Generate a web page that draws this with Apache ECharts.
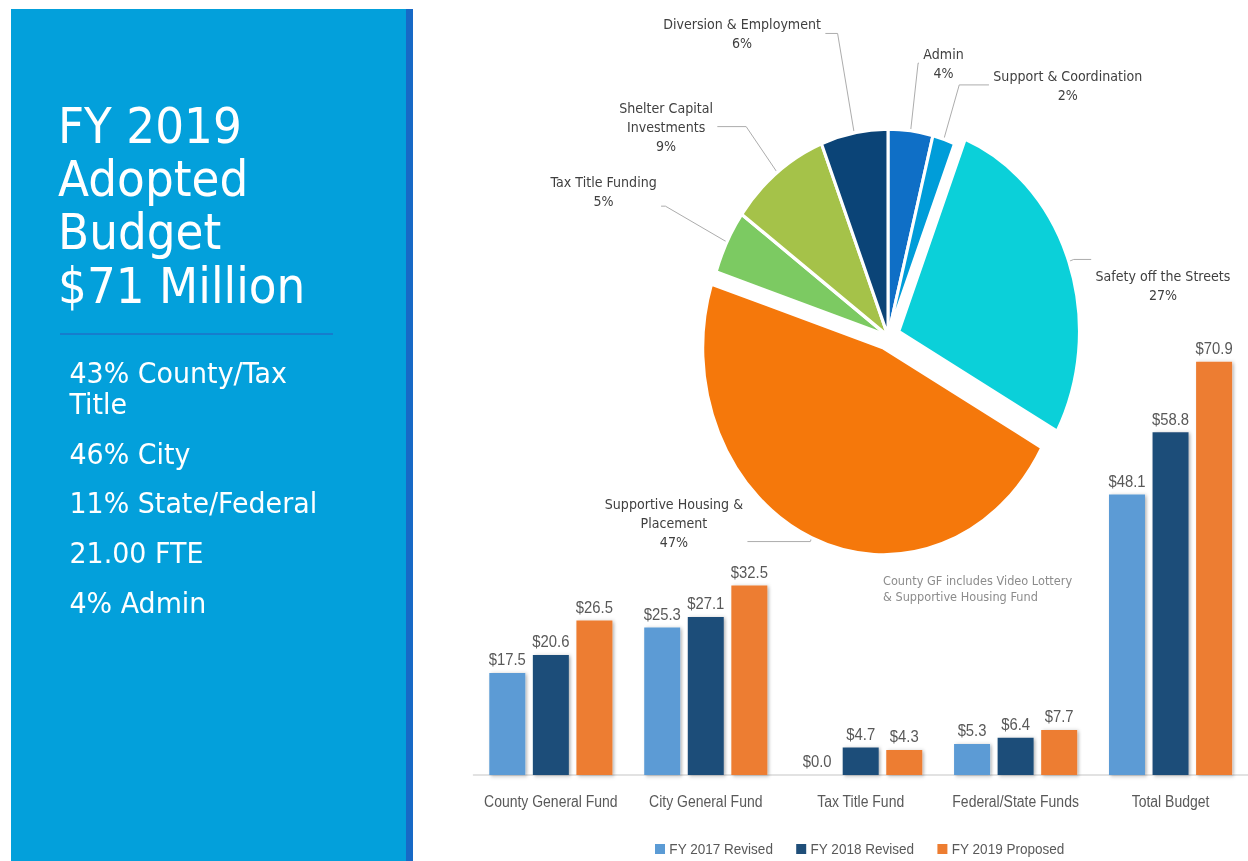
<!DOCTYPE html>
<html>
<head>
<meta charset="utf-8">
<script src="https://cdn.jsdelivr.net/npm/echarts@6/dist/echarts.min.js"></script>
<style>
  html, body { margin: 0; padding: 0; background: #fff; }
  #wrap { position: absolute; left: 0; top: 0; width: 1248px; height: 861px; overflow: hidden; background: #fff; }
  #chart { position: absolute; left: 0; top: 0; width: 1429px; height: 861px; transform-origin: 0 0; }
</style>
</head>
<body>
<div id="wrap"><div id="chart"></div></div>
<script>
// ---------- data ----------
const titleLines = ['FY 2019', 'Adopted', 'Budget', '$71 Million'];
const factLines = ['43% County/Tax', 'Title', '46% City', '11% State/Federal', '21.00 FTE', '4% Admin'];
const noteLines = ['County GF includes Video Lottery', '& Supportive Housing Fund'];

const pieNames = ['Admin', 'Support & Coordination', 'Safety off the Streets',
  'Supportive Housing &\nPlacement', 'Tax Title Funding', 'Shelter Capital\nInvestments',
  'Diversion & Employment'];
const pieValues = [4, 2, 27, 47, 5, 9, 6];
const pieColors = ['#0F6FC6', '#009DD9', '#0BD0D9', '#F5780B', '#7CCA62', '#A5C249', '#0B4477'];
const pieExploded = [false, false, true, true, false, false, false];

const barCategories = ['County General Fund', 'City General Fund', 'Tax Title Fund', 'Federal/State Funds', 'Total Budget'];
const seriesNames = ['FY 2017 Revised', 'FY 2018 Revised', 'FY 2019 Proposed'];
const fy2017 = [17.5, 25.3, 0.0, 5.3, 48.1];
const fy2018 = [20.6, 27.1, 4.7, 6.4, 58.8];
const fy2019 = [26.5, 32.5, 4.3, 7.7, 70.9];
const barColors = ['#5B9BD5', '#1F4E79', '#ED7D31'];

// ---------- layout helpers (page is horizontally compressed like the original slide) ----------
const VW = 1429, VH = 861;
const SX = 1248 / VW;
document.getElementById('chart').style.transform = 'scaleX(' + SX + ')';
const vx = x => x / SX;

// per-slice label line settings (length, length2, padding)
const labelLineCfg = [
  { length: 68, length2: 1, padding: 0 },
  { length: 57, length2: 34, padding: 0 },
  { length: 6, length2: 20, padding: [52, 0, 0, 0] },
  { length: 4, length2: 72, padding: [0, 0, 37, 0] },
  { length: 79, length2: 5, padding: [0, 0, 29, 0] },
  { length: 58, length2: 33, padding: 0 },
  { length: 101, length2: 14, padding: 0 }
];

const pieData = pieNames.map((n, i) => ({
  name: n,
  value: pieValues[i],
  selected: pieExploded[i],
  itemStyle: { color: pieColors[i] },
  label: { padding: labelLineCfg[i].padding },
  labelLine: { length: labelLineCfg[i].length, length2: labelLineCfg[i].length2 }
}));

const graphics = [];
graphics.push({ type: 'rect', shape: { x: vx(11), y: 9, width: vx(406) - vx(11), height: 852 }, style: { fill: '#03A0DB' }, silent: true });
graphics.push({ type: 'rect', shape: { x: vx(406), y: 9, width: vx(7), height: 852 }, style: { fill: '#1769C6' }, silent: true });
graphics.push({ type: 'line', shape: { x1: vx(60), y1: 334, x2: vx(333), y2: 334 }, style: { stroke: '#1E72C8', lineWidth: 1.5 }, silent: true });
const titleBase = [141.7, 194.8, 248.2, 302];
titleLines.forEach((t, i) => graphics.push({
  type: 'text', silent: true,
  x: vx(58), y: titleBase[i] - 17, scaleX: 1.03,
  style: { text: t, x: 0, y: 0, fill: '#ffffff', fontSize: 50.5, fontFamily: 'DejaVu Sans', verticalAlign: 'middle' }
}));
const factBase = [383.3, 414, 464, 513.3, 563, 612.7];
factLines.forEach((t, i) => graphics.push({
  type: 'text', silent: true,
  x: vx(69.5), y: factBase[i] - 9.5, scaleX: 1.1,
  style: { text: t, x: 0, y: 0, fill: '#ffffff', fontSize: 28, fontFamily: 'DejaVu Sans', verticalAlign: 'middle' }
}));
graphics.push({
  type: 'text', silent: true,
  style: { text: noteLines.join('\n'), x: vx(883), y: 573, fill: '#8C8C8C', fontSize: 13, lineHeight: 16, fontFamily: 'DejaVu Sans', verticalAlign: 'top' }
});

const barFont = 'Liberation Sans';
function barSeries(name, data, color) {
  return {
    name: name, type: 'bar', data: data,
    barWidth: vx(36), barGap: '21%',
    itemStyle: { color: color, shadowBlur: 4, shadowColor: 'rgba(0,0,0,0.28)', shadowOffsetX: 2, shadowOffsetY: 1 },
    label: {
      show: true, position: 'top', distance: 5,
      formatter: p => '$' + Number(p.value).toFixed(1),
      color: '#595959', fontSize: 17, fontFamily: barFont
    },
    emphasis: { disabled: true },
    z: 2
  };
}

const chart = echarts.init(document.getElementById('chart'), null, { renderer: 'svg', width: VW, height: VH });
chart.setOption({
  animation: false,
  backgroundColor: 'transparent',
  graphic: { elements: graphics },
  legend: {
    data: seriesNames,
    left: vx(655), top: 841,
    itemWidth: vx(10), itemHeight: 10, itemGap: vx(23), padding: 0,
    icon: 'rect',
    textStyle: { color: '#595959', fontSize: 15.5, fontFamily: barFont },
    selectedMode: false
  },
  grid: { left: vx(473.4), width: vx(776.3), top: 775 - 80 * 5.83, height: 80 * 5.83, containLabel: false },
  xAxis: {
    type: 'category', data: barCategories,
    axisTick: { show: false },
    axisLine: { lineStyle: { color: '#D9D9D9', width: 1.5 } },
    axisLabel: { interval: 0, color: '#595959', fontSize: 16, fontFamily: barFont, margin: 18 }
  },
  yAxis: { type: 'value', min: 0, max: 80, show: false, splitLine: { show: false } },
  series: [
    barSeries(seriesNames[0], fy2017, barColors[0]),
    barSeries(seriesNames[1], fy2018, barColors[1]),
    barSeries(seriesNames[2], fy2019, barColors[2]),
    {
      type: 'pie',
      center: [vx(888), 336],
      radius: [0, 207],
      startAngle: 90,
      clockwise: true,
      selectedMode: 'multiple',
      selectedOffset: 13,
      avoidLabelOverlap: false,
      itemStyle: { borderColor: '#ffffff', borderWidth: 3.5 },
      emphasis: { disabled: true },
      label: {
        show: true, position: 'outside',
        formatter: p => p.name.split('\n').map(l => '{a|' + l + '}').join('\n') + '\n{a|' + p.value + '%}',
        rich: { a: { align: 'center', color: '#404040', fontSize: 14.5, fontFamily: 'DejaVu Sans', lineHeight: 19 } }
      },
      labelLine: { show: true, smooth: false, lineStyle: { color: '#A6A6A6', width: 1 } },
      data: pieData,
      z: 3
    }
  ]
});
</script>
</body>
</html>
